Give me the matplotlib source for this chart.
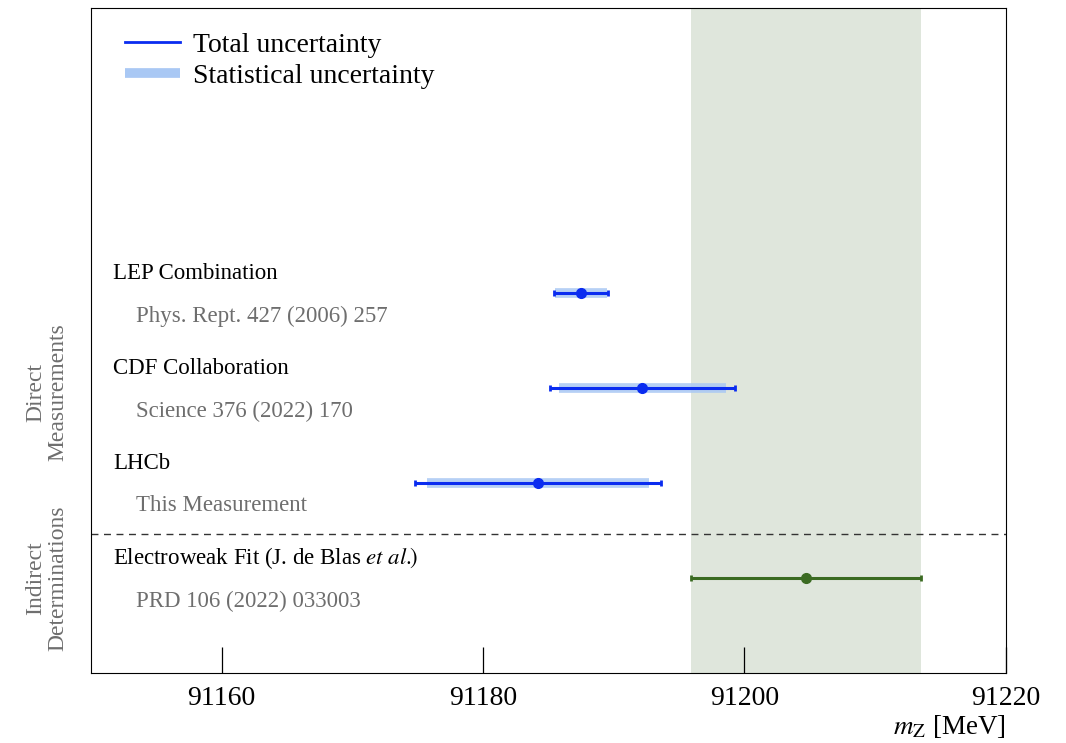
import matplotlib
matplotlib.use("Agg")
import matplotlib.pyplot as plt
from matplotlib.lines import Line2D
from matplotlib.transforms import blended_transform_factory

plt.rcParams['font.family'] = ['Liberation Serif', 'DejaVu Serif']
plt.rcParams['mathtext.fontset'] = 'stix'

# m_Z results [MeV]: central value, total and statistical uncertainty
names = ["LEP Combination", "CDF Collaboration", "LHCb"]
refs = ["Phys. Rept. 427 (2006) 257", "Science 376 (2022) 170", "This Measurement"]
mz = [91187.5, 91192.2, 91184.2]
err_tot = [2.1, 7.1, 9.4]
err_stat = [2.0, 6.4, 8.5]
rows = [4, 3, 2]

ew_name = "Electroweak Fit (J. de Blas $\\mathit{et\\ al.}\\!\\!\\mathrm{)}$"
ew_ref = "PRD 106 (2022) 033003"
ew_mz = 91204.7
ew_err = 8.8
ew_row = 1

blue = "#0a2cf0"
lightblue = "#a9c8f4"
green = "#3b6b22"
grey = "#6e6e6e"

fig = plt.figure(figsize=(10.66, 7.43), dpi=100)
ax = fig.add_axes([0.0854, 0.094, 0.8580, 0.895])

# indirect prediction band
ax.axvspan(ew_mz - ew_err, ew_mz + ew_err, color="#dfe6dc", lw=0, zorder=0)

for y, m, et, es in zip(rows, mz, err_tot, err_stat):
    ax.plot([m - es, m + es], [y, y], color=lightblue, lw=7, alpha=0.85,
            solid_capstyle="butt", zorder=2)
    ax.errorbar(m, y, xerr=et, fmt="o", color=blue, ms=7, elinewidth=2.2,
                capsize=2.5, capthick=2, zorder=3)

ax.errorbar(ew_mz, ew_row, xerr=ew_err, fmt="o", color=green, ms=7,
            elinewidth=2.2, capsize=2.5, capthick=2, zorder=3)

ax.axhline(1.47, color="#333333", lw=1, ls=(0, (5, 4)))

trans = blended_transform_factory(ax.transAxes, ax.transData)
for y, n, r in zip(rows + [ew_row], names + [ew_name], refs + [ew_ref]):
    ax.text(0.024, y + 0.21, n, transform=trans, fontsize=16.5, va="center",
            color="black")
    ax.text(0.049, y - 0.24, r, transform=trans, fontsize=16.5, va="center",
            color=grey)

fig.text(0.044, (743 - 392) / 743, "Direct\nMeasurements", rotation=90,
         ha="center", va="center", fontsize=17, color=grey, linespacing=1.05)
fig.text(0.044, (743 - 578) / 743, "Indirect\nDeterminations", rotation=90,
         ha="center", va="center", fontsize=17, color=grey, linespacing=1.05)

ax.set_xlim(91150, 91220)
ax.set_ylim(0, 7)
ax.set_xticks([91160, 91180, 91200, 91220])
ax.set_yticks([])
ax.tick_params(axis="x", direction="in", length=19, width=0.9, labelsize=20,
               pad=9)
ax.set_xlabel("$m_{\\mathrm{Z}}$ [MeV]", fontsize=19.5, loc="right",
              labelpad=2)

handles = [Line2D([], [], color=blue, lw=2),
           Line2D([], [], color=lightblue, lw=7, solid_capstyle="butt")]
ax.legend(handles, ["Total uncertainty", "Statistical uncertainty"],
          loc="upper left", bbox_to_anchor=(0.037, 0.964), frameon=False,
          fontsize=20, handlelength=2.0, handletextpad=0.45,
          labelspacing=0.2, borderpad=0, borderaxespad=0)

fig.savefig("out.png", dpi=100)
